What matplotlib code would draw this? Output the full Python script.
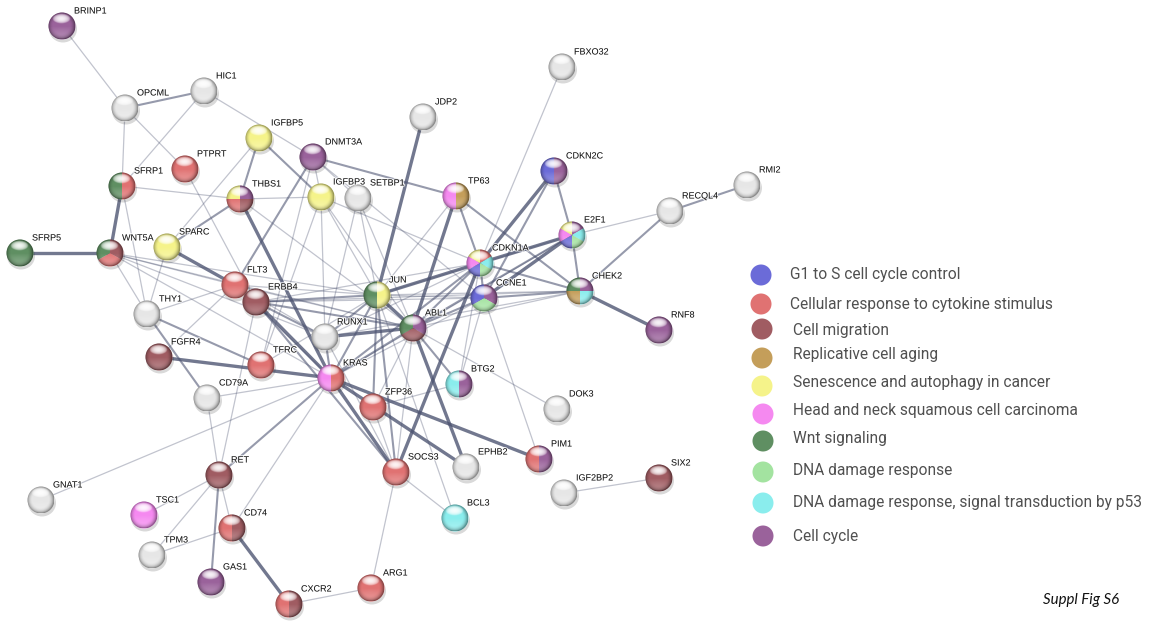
import numpy as np
import matplotlib.pyplot as plt
from matplotlib.patches import Circle, Wedge, Ellipse
import matplotlib.patheffects as pe

# -------------------------
# Functional groups (legend)
# -------------------------
group_keys = ['g1s', 'cyto', 'migr', 'repl', 'sen', 'hnsc', 'wnt', 'dna', 'p53', 'cc']
group_labels = ['G1 to S cell cycle control',
                'Cellular response to cytokine stimulus',
                'Cell migration',
                'Replicative cell aging',
                'Senescence and autophagy in cancer',
                'Head and neck squamous cell carcinoma',
                'Wnt signaling',
                'DNA damage response',
                'DNA damage response, signal transduction by p53',
                'Cell cycle']
group_colors = ['#6b6bd8', '#e07272', '#a05c62', '#c49e5a', '#f5f38a',
                '#f589f0', '#5f8f62', '#a3e3a0', '#8aeded', '#9a629b']

# -------------------------
# Nodes: name, layout position, group membership (clockwise from 12 o'clock)
# -------------------------
node_names = ['BRINP1', 'OPCML', 'HIC1', 'IGFBP5', 'DNMT3A', 'PTPRT', 'SFRP1', 'THBS1',
              'IGFBP3', 'SETBP1', 'SFRP5', 'WNT5A', 'SPARC', 'FLT3', 'ERBB4', 'THY1',
              'JUN', 'FBXO32', 'JDP2', 'TP63', 'CDKN2C', 'RECQL4', 'RMI2', 'E2F1',
              'CDKN1A', 'CHEK2', 'CCNE1', 'RNF8', 'FGFR4', 'TFRC', 'RUNX1', 'KRAS',
              'CD79A', 'ZFP36', 'RET', 'GNAT1', 'TSC1', 'CD74', 'TPM3', 'GAS1',
              'CXCR2', 'ARG1', 'SOCS3', 'ABL1', 'BTG2', 'DOK3', 'EPHB2', 'PIM1',
              'BCL3', 'IGF2BP2', 'SIX2']
node_x = [62, 125, 204, 259, 313, 185, 122, 240,
          321, 358, 20, 110, 167, 235, 256, 147,
          377, 562, 423, 456, 554, 670, 747, 572,
          480, 580, 484, 659, 159, 261, 325, 331,
          207, 373, 219, 41, 144, 232, 152, 211,
          289, 371, 396, 413, 459, 557, 466, 539,
          455, 564, 659]
node_y = [26, 108, 91, 138, 157, 169, 186, 199,
          197, 198, 253, 253, 247, 285, 302, 314,
          295, 67, 117, 196, 171, 211, 185, 235,
          263, 291, 298, 330, 357, 365, 337, 378,
          398, 407, 475, 500, 515, 528, 555, 582,
          604, 588, 472, 328, 384, 409, 467, 459,
          518, 493, 478]
node_groups = [['cc'], [], [], ['sen'], ['cc'], ['cyto'], ['cyto', 'wnt'],
               ['cc', 'migr', 'cyto', 'sen'],
               ['sen'], [], ['wnt'], ['migr', 'cyto', 'wnt'], ['sen'], ['cyto'], ['migr'], [],
               ['sen', 'wnt'], [], [], ['repl', 'hnsc'], ['cc', 'g1s'], [], [],
               ['cc', 'p53', 'dna', 'g1s', 'hnsc', 'sen'],
               ['cyto', 'p53', 'dna', 'g1s', 'hnsc', 'sen'],
               ['cc', 'p53', 'repl', 'wnt'], ['cc', 'dna', 'g1s'], ['cc'], ['migr'], ['cyto'], [],
               ['cyto', 'hnsc'],
               [], ['cyto'], ['migr'], [], ['hnsc'], ['migr', 'cyto'], [], ['cc'],
               ['migr', 'cyto'], ['cyto'], ['cyto'], ['cc', 'migr', 'wnt'], ['cc', 'p53'], [], [],
               ['cc', 'cyto'],
               ['p53'], [], ['migr']]

# -------------------------
# Interactions: (node, node, confidence level 1..3)
# -------------------------
edges = [
    ('BRINP1', 'OPCML', 1), ('OPCML', 'HIC1', 2), ('OPCML', 'SFRP1', 1), ('OPCML', 'PTPRT', 1),
    ('HIC1', 'SFRP1', 1), ('HIC1', 'DNMT3A', 1),
    ('SFRP1', 'WNT5A', 3), ('SFRP1', 'THBS1', 1), ('SFRP1', 'THY1', 1), ('SFRP5', 'WNT5A', 3),
    ('WNT5A', 'JUN', 1), ('WNT5A', 'ABL1', 1), ('WNT5A', 'KRAS', 1), ('WNT5A', 'RUNX1', 1),
    ('WNT5A', 'FLT3', 1), ('WNT5A', 'THY1', 1),
    ('SPARC', 'THBS1', 2), ('SPARC', 'FLT3', 3), ('SPARC', 'THY1', 1), ('SPARC', 'IGFBP5', 1),
    ('PTPRT', 'ERBB4', 1),
    ('THBS1', 'KRAS', 3), ('THBS1', 'ABL1', 1), ('THBS1', 'IGFBP5', 2), ('THBS1', 'IGFBP3', 1),
    ('IGFBP5', 'IGFBP3', 2),
    ('DNMT3A', 'IGFBP3', 1), ('DNMT3A', 'SETBP1', 1), ('DNMT3A', 'TP63', 2), ('DNMT3A', 'FLT3', 2),
    ('DNMT3A', 'CCNE1', 1), ('DNMT3A', 'TFRC', 1),
    ('IGFBP3', 'CDKN1A', 1), ('IGFBP3', 'JUN', 1), ('IGFBP3', 'RUNX1', 1), ('IGFBP3', 'ABL1', 1),
    ('IGFBP3', 'TFRC', 1),
    ('SETBP1', 'RUNX1', 1), ('SETBP1', 'JUN', 1), ('SETBP1', 'ABL1', 1),
    ('JDP2', 'JUN', 3), ('FBXO32', 'CDKN1A', 1),
    ('TP63', 'ABL1', 3), ('TP63', 'JUN', 1), ('TP63', 'CDKN1A', 2), ('TP63', 'CHEK2', 2),
    ('CDKN2C', 'CDKN1A', 3), ('CDKN2C', 'E2F1', 2), ('CDKN2C', 'CCNE1', 2),
    ('CDKN1A', 'E2F1', 3), ('CDKN1A', 'CHEK2', 2), ('CDKN1A', 'CCNE1', 2), ('CDKN1A', 'JUN', 3),
    ('CDKN1A', 'BTG2', 1),
    ('CCNE1', 'E2F1', 3), ('CCNE1', 'CHEK2', 2), ('CCNE1', 'PIM1', 1), ('CCNE1', 'BTG2', 1),
    ('E2F1', 'CHEK2', 2), ('E2F1', 'RECQL4', 1), ('E2F1', 'ABL1', 2), ('E2F1', 'JUN', 1),
    ('E2F1', 'KRAS', 1),
    ('CHEK2', 'RECQL4', 2), ('CHEK2', 'RNF8', 3), ('CHEK2', 'JUN', 1), ('CHEK2', 'RUNX1', 1),
    ('CHEK2', 'ABL1', 1), ('CHEK2', 'ERBB4', 1), ('RECQL4', 'RMI2', 2),
    ('JUN', 'RUNX1', 2), ('JUN', 'KRAS', 2), ('JUN', 'FLT3', 1), ('JUN', 'ERBB4', 2),
    ('JUN', 'ZFP36', 2), ('JUN', 'TFRC', 1), ('JUN', 'ABL1', 3), ('JUN', 'CCNE1', 1),
    ('RUNX1', 'KRAS', 2), ('RUNX1', 'ABL1', 3), ('RUNX1', 'FLT3', 1), ('RUNX1', 'ERBB4', 2),
    ('RUNX1', 'CDKN1A', 1),
    ('KRAS', 'ABL1', 2), ('KRAS', 'CDKN1A', 2), ('KRAS', 'CCNE1', 1), ('KRAS', 'FLT3', 1),
    ('KRAS', 'SOCS3', 3), ('KRAS', 'PIM1', 3), ('KRAS', 'EPHB2', 3), ('KRAS', 'RET', 2),
    ('KRAS', 'GNAT1', 1), ('KRAS', 'CD74', 1), ('KRAS', 'CD79A', 1),
    ('ERBB4', 'KRAS', 3), ('ERBB4', 'ABL1', 2), ('ERBB4', 'CDKN1A', 1), ('ERBB4', 'CCNE1', 1),
    ('ERBB4', 'SOCS3', 2), ('ERBB4', 'RET', 1),
    ('FLT3', 'ABL1', 1), ('FLT3', 'THY1', 1), ('FLT3', 'FGFR4', 1),
    ('FGFR4', 'KRAS', 3), ('THY1', 'CD79A', 2), ('THY1', 'TFRC', 2),
    ('CD79A', 'RET', 1), ('RET', 'TSC1', 1), ('RET', 'TPM3', 1), ('RET', 'GAS1', 2),
    ('RET', 'CD74', 1), ('CD74', 'TPM3', 1), ('CD74', 'CXCR2', 3), ('CXCR2', 'ARG1', 1),
    ('ARG1', 'SOCS3', 1), ('SOCS3', 'BCL3', 1), ('SOCS3', 'JUN', 2), ('SOCS3', 'CDKN1A', 3),
    ('SOCS3', 'ZFP36', 1), ('SOCS3', 'RUNX1', 1), ('SOCS3', 'ABL1', 1),
    ('ZFP36', 'BTG2', 1), ('ZFP36', 'ABL1', 1),
    ('ABL1', 'EPHB2', 3), ('ABL1', 'BTG2', 2), ('ABL1', 'DOK3', 1), ('ABL1', 'CDKN1A', 2),
    ('ABL1', 'CCNE1', 2),
    ('BCL3', 'JUN', 1), ('IGF2BP2', 'SIX2', 1),
]

edge_lw = {1: 0.9, 2: 1.5, 3: 2.4}
edge_alpha = {1: 0.34, 2: 0.58, 3: 0.78}

R = 13.5  # node radius in pixels
W, H = 1151, 624

fig = plt.figure(figsize=(W / 100, H / 100), dpi=100)
ax = fig.add_axes([0, 0, 1, 1])
ax.set_xlim(0, W)
ax.set_ylim(H, 0)
ax.set_aspect('equal')
ax.axis('off')

pos = {n: (x, y) for n, x, y in zip(node_names, node_x, node_y)}
color_of = dict(zip(group_keys, group_colors))

# edges first, underneath the nodes
for a, b, w in edges:
    (x1, y1), (x2, y2) = pos[a], pos[b]
    ax.plot([x1, x2], [y1, y2], color='#4b5270', lw=edge_lw[w],
            alpha=edge_alpha[w], solid_capstyle='butt', zorder=1)

# shading overlays for the glossy spheres
n = 64
u, v = np.meshgrid(np.linspace(-1, 1, n), np.linspace(-1, 1, n))
d = np.sqrt(u ** 2 + v ** 2)
rim = np.clip((d - 0.6) / 0.4, 0, 1) ** 2 * 0.4
dark = np.zeros((n, n, 4))
dark[..., 3] = rim
e = (u / 0.66) ** 2 + ((v + 0.52) / 0.36) ** 2
hi = 0.92 * np.clip(1 - e, 0, 1) ** 0.5
glow = 0.4 * np.clip((v - 0.05) / 0.85, 0, 1) * np.clip(1 - d, 0, 1) ** 0.35
light = np.ones((n, n, 4))
light[..., 3] = 1 - (1 - hi) * (1 - glow)

for name, x, y, groups in zip(node_names, node_x, node_y, node_groups):
    ax.add_patch(Ellipse((x + 1, y + 3), 2 * R + 1, 2 * R, color='#000000',
                         alpha=0.15, lw=0, zorder=2))
    if groups:
        k = len(groups)
        for i, g in enumerate(groups):
            ax.add_patch(Wedge((x, y), R, 270 + i * 360 / k, 270 + (i + 1) * 360 / k,
                               color=color_of[g], lw=0, zorder=3))
    else:
        ax.add_patch(Circle((x, y), R, color='#e6e6e6', lw=0, zorder=3))
    clip = Circle((x, y), R, transform=ax.transData)
    for layer in (dark, light):
        im = ax.imshow(layer, extent=[x - R, x + R, y + R, y - R], origin='upper',
                       interpolation='bilinear', zorder=4)
        im.set_clip_path(clip)
    ax.text(x + 12, y - 15, name, fontsize=6.5, family='Liberation Sans', color='#111111',
            va='center', ha='left', zorder=6,
            path_effects=[pe.withStroke(linewidth=1.5, foreground='white', alpha=0.8)])

# legend
legend_cx = [761, 761, 762, 762, 762, 763, 763, 763, 763, 763]
legend_cy = [275, 304, 329, 358, 386, 414, 441, 472, 503, 536]
legend_tx = [790, 790, 793, 793, 793, 793, 793, 793, 793, 793]
legend_ty = [275, 304, 331, 354, 383, 411, 439, 470, 502, 536]
for cx, cy, tx, ty, c, lab in zip(legend_cx, legend_cy, legend_tx, legend_ty,
                                  group_colors, group_labels):
    ax.add_patch(Circle((cx, cy), 10.5, color=c, lw=0, zorder=3))
    ax.text(tx, ty, lab, fontsize=11.2, family='Roboto', color='#505050',
            va='center', ha='left')

ax.text(1043, 600, 'Suppl Fig S6', fontsize=10.8, family='Lato', style='italic',
        color='#111111', va='center', ha='left')

ax.set_xlim(0, W)
ax.set_ylim(H, 0)
fig.savefig('out.png', dpi=100, facecolor='white')
